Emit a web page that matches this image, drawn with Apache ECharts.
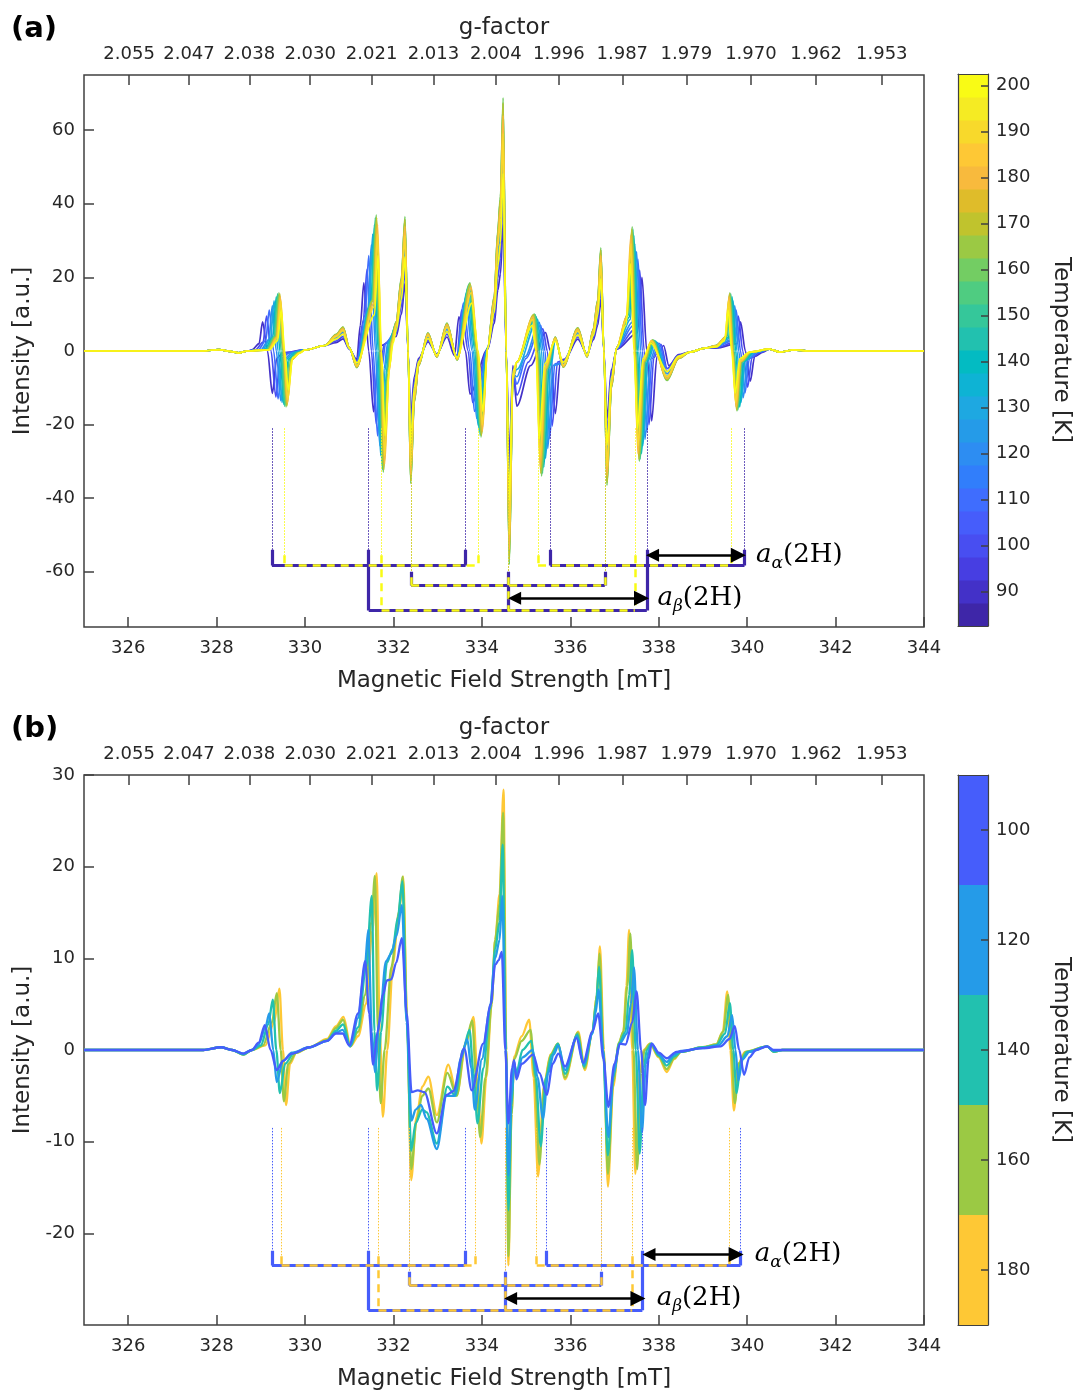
<!DOCTYPE html>
<html><head><meta charset="utf-8">
<script src="https://cdn.jsdelivr.net/npm/echarts@6/dist/echarts.min.js"></script>
<style>html,body{margin:0;padding:0;background:#fff}#c{width:1079px;height:1393px}</style>
</head><body><div id="c"></div>
<script>
// ================= DATA =================
const fieldTicks = [326,328,330,332,334,336,338,340,342,344];
const gTicks = [2.0553,2.0468,2.0383,2.0298,2.0213,2.0128,2.0043,1.9958,1.9873,1.9788,1.9703,1.9618,1.9533];
const yTicksA = [-60,-40,-20,0,20,40,60];
const yTicksB = [-20,-10,0,10,20,30];
const cbarTicksA = [90,100,110,120,130,140,150,160,170,180,190,200];
const cbarTicksB = [100,120,140,160,180];
const cbarBandsA = [85,90,95,100,105,110,115,120,125,130,135,140,145,150,155,160,165,170,175,180,185,190,195,200];
const cbarBandsB = [100,120,140,160,180];
const tempsA = [90,100,110,120,130,140,150,160,170,180,190,200];
const tempsB = [180,160,140,120,100];

// panel (a) spectra, [field mT, intensity]
const a090 = [[325,0],[327.7,0],[328.05,0.4],[328.3,-0.1],[328.5,-0.5],[328.7,0],[328.8,0.3],[328.96,2],[329.04,7.9],[329.15,0],[329.26,-11.5],[329.36,-2],[329.5,-0.5],[330,0.3],[330.45,1.5],[330.7,2.3],[330.86,3.3],[331,0.5],[331.17,-2.3],[331.25,7],[331.33,18.5],[331.44,0],[331.55,-16.5],[331.65,-3],[331.73,1.5],[332.06,4],[332.18,10],[332.26,18.3],[332.33,0],[332.39,-18],[332.47,-7],[332.57,-2],[332.78,2.5],[332.98,-0.8],[333.21,3.8],[333.38,-1.2],[333.48,9.3],[333.63,0],[333.73,-11.7],[334.13,0.5],[334.28,7.5],[334.36,16.5],[334.42,21],[334.48,34.4],[334.55,0],[334.62,-29],[334.7,-4],[334.79,-15],[335.1,-4],[335.44,5],[335.55,0],[335.66,-17],[335.78,-2.5],[335.88,-2.2],[336.17,3.2],[336.38,-0.8],[336.52,3],[336.62,7],[336.69,14],[336.76,0],[336.83,-18.3],[336.93,-5],[337.05,0.5],[337.52,5],[337.62,20],[337.73,0],[337.84,-19],[337.96,-1.5],[338.11,1.5],[338.23,-4],[338.45,-1],[338.7,-0.3],[339.05,0.8],[339.3,0.8],[339.77,2],[339.85,7.9],[339.96,0],[340.07,-8.2],[340.17,-1.5],[340.36,-0.3],[340.5,0.5],[340.75,-0.3],[341.05,0.3],[341.4,0],[344,0]];
const a100 = [[325,0],[327.7,0],[328.05,0.4],[328.3,-0.1],[328.5,-0.5],[328.7,0],[328.88,0.3],[329.05,2.4],[329.13,9.5],[329.23,0],[329.34,-12.5],[329.44,-1.5],[329.58,-0.5],[330,0.3],[330.45,1.5],[330.7,2.7],[330.86,3.9],[331,0.6],[331.17,-2.7],[331.32,8.4],[331.4,22.2],[331.5,0],[331.61,-19.8],[331.71,-3.6],[331.79,1.8],[332.06,4.8],[332.18,12],[332.26,21.9],[332.33,0],[332.39,-21.6],[332.47,-8.4],[332.57,-2.4],[332.78,2.9],[332.98,-1],[333.21,4.6],[333.44,-1.4],[333.54,11.1],[333.69,0],[333.79,-14],[334.13,0.6],[334.28,9],[334.36,19.8],[334.42,25.2],[334.48,41.3],[334.55,0],[334.62,-34.8],[334.7,-4.8],[334.79,-12],[335.05,-3],[335.38,6],[335.48,0],[335.59,-20.4],[335.71,-3],[335.84,-2.6],[336.17,3.8],[336.38,-1],[336.52,3.6],[336.62,8.4],[336.69,16.8],[336.76,0],[336.83,-21.9],[336.93,-6],[337.05,0.6],[337.47,6],[337.57,22],[337.67,0],[337.78,-20],[337.89,-1.8],[338.05,1.8],[338.19,-4.8],[338.45,-1.2],[338.7,-0.3],[339.05,0.8],[339.3,0.9],[339.72,2.4],[339.8,9.5],[339.9,0],[340.01,-9.8],[340.11,-1.8],[340.3,-0.3],[340.5,0.5],[340.75,-0.3],[341.05,0.3],[341.4,0],[344,0]];
const a110 = [[325,0],[327.7,0],[328.05,0.4],[328.3,-0.1],[328.5,-0.5],[328.7,0],[328.94,0.3],[329.11,2.8],[329.19,11.1],[329.29,0],[329.39,-13],[329.49,-1.8],[329.64,-0.5],[330,0.3],[330.45,1.5],[330.7,3.2],[330.86,4.6],[331,0.7],[331.17,-3.2],[331.36,9.8],[331.44,25.9],[331.54,0],[331.64,-23.1],[331.74,-4.2],[331.82,2.1],[332.06,5.6],[332.18,14],[332.26,25.6],[332.33,0],[332.39,-25.2],[332.47,-9.8],[332.57,-2.8],[332.78,3.4],[332.98,-1.1],[333.21,5.3],[333.44,-1.7],[333.58,13],[333.73,0],[333.83,-16.4],[334.13,0.7],[334.28,10.5],[334.36,23.1],[334.42,29.4],[334.48,48.2],[334.55,0],[334.62,-40.6],[334.7,-5.6],[334.79,-9],[335,-2],[335.33,7],[335.43,0],[335.53,-23.8],[335.65,-3.5],[335.85,-3.1],[336.17,4.4],[336.38,-1.1],[336.52,4.2],[336.62,9.8],[336.69,19.6],[336.76,0],[336.83,-25.6],[336.93,-7],[337.05,0.7],[337.43,7],[337.53,25],[337.63,0],[337.73,-22],[337.85,-2.1],[338.01,2.1],[338.19,-5.6],[338.45,-1.4],[338.7,-0.3],[339.05,0.8],[339.3,1.1],[339.67,2.8],[339.75,11.1],[339.85,0],[339.95,-11.4],[340.05,-2.1],[340.25,-0.3],[340.5,0.5],[340.75,-0.3],[341.05,0.3],[341.4,0],[344,0]];
const a120 = [[325,0],[327.7,0],[328.05,0.4],[328.3,-0.1],[328.5,-0.5],[328.7,0],[329,0.3],[329.18,3.1],[329.26,12.3],[329.35,0],[329.45,-13.5],[329.55,-2],[329.7,-0.5],[330,0.3],[330.45,1.5],[330.7,3.5],[330.86,5.1],[331,0.8],[331.17,-3.5],[331.42,10.9],[331.5,28.9],[331.59,0],[331.69,-25.7],[331.79,-4.7],[331.87,2.3],[332.06,6.2],[332.18,15.6],[332.26,28.5],[332.33,0],[332.39,-28.1],[332.47,-10.9],[332.57,-3.1],[332.78,3.8],[332.98,-1.2],[333.21,5.9],[333.44,-1.9],[333.63,14.4],[333.78,0],[333.88,-18.3],[334.13,0.8],[334.28,11.7],[334.36,25.7],[334.42,32.8],[334.48,53.7],[334.55,0],[334.62,-45.2],[334.7,-6.2],[334.79,-7],[334.98,-1.5],[335.3,7.8],[335.39,0],[335.49,-26.5],[335.61,-3.9],[335.84,-3.4],[336.17,4.9],[336.38,-1.2],[336.52,4.7],[336.62,10.9],[336.69,21.8],[336.76,0],[336.83,-28.5],[336.93,-7.8],[337.05,0.8],[337.4,7.8],[337.5,27],[337.59,0],[337.69,-24],[337.81,-2.3],[337.97,2.3],[338.19,-6.2],[338.45,-1.6],[338.7,-0.3],[339.05,0.8],[339.3,1.2],[339.64,3.1],[339.72,12.3],[339.81,0],[339.91,-12.7],[340.01,-2.3],[340.21,-0.3],[340.5,0.5],[340.75,-0.3],[341.05,0.3],[341.4,0],[344,0]];
const a130 = [[325,0],[327.7,0],[328.05,0.4],[328.3,-0.1],[328.5,-0.5],[328.7,0],[329.04,0.3],[329.22,3.4],[329.3,13.6],[329.39,0],[329.48,-14],[329.58,-2.2],[329.74,-0.5],[330,0.3],[330.45,1.5],[330.7,3.9],[330.86,5.6],[331,0.9],[331.17,-3.9],[331.45,12],[331.53,31.8],[331.62,0],[331.71,-28.4],[331.81,-5.2],[331.89,2.6],[332.06,6.9],[332.18,17.2],[332.26,31.4],[332.33,0],[332.39,-31],[332.47,-12],[332.57,-3.4],[332.78,4.2],[332.98,-1.4],[333.21,6.5],[333.44,-2.1],[333.66,15.9],[333.81,0],[333.91,-20.1],[334.13,0.9],[334.28,12.9],[334.36,28.4],[334.42,36.1],[334.48,59.2],[334.55,0],[334.62,-49.9],[334.7,-6.9],[334.79,-5],[335.26,8.6],[335.35,0],[335.44,-29.2],[335.56,-4.3],[335.66,3.3],[335.84,-3.8],[336.17,5.4],[336.38,-1.4],[336.52,5.2],[336.62,12],[336.69,24.1],[336.76,0],[336.83,-31.4],[336.93,-8.6],[337.05,0.9],[337.36,8.6],[337.46,29.1],[337.55,0],[337.64,-25.8],[337.76,-2.6],[337.93,2.6],[338.19,-6.9],[338.45,-1.7],[338.7,-0.3],[339.05,0.8],[339.3,1.3],[339.6,3.4],[339.68,13.6],[339.77,0],[339.86,-14],[339.96,-2.6],[340.17,-0.3],[340.5,0.5],[340.75,-0.3],[341.05,0.3],[341.4,0],[344,0]];
const a140 = [[325,0],[327.7,0],[328.05,0.4],[328.3,-0.1],[328.5,-0.5],[328.7,0],[329.08,0.3],[329.27,3.7],[329.35,14.7],[329.43,0],[329.52,-14.5],[329.62,-2.3],[329.78,-0.5],[330,0.3],[330.45,1.5],[330.7,4.2],[330.86,6],[331,0.9],[331.17,-4.2],[331.49,13],[331.57,34.4],[331.65,0],[331.74,-30.7],[331.84,-5.6],[331.92,2.8],[332.06,7.4],[332.18,18.6],[332.26,33.9],[332.33,0],[332.39,-33.5],[332.47,-13],[332.57,-3.7],[332.78,4.6],[332.98,-1.5],[333.21,7.1],[333.44,-2.2],[333.69,17.2],[333.84,0],[333.94,-21.8],[334.13,0.9],[334.28,14],[334.36,30.7],[334.42,39.1],[334.48,64],[334.55,0],[334.62,-53.9],[334.7,-7.4],[334.79,-3],[335.23,9.3],[335.31,0],[335.4,-31.6],[335.52,-4.7],[335.66,3.5],[335.84,-4.1],[336.17,5.9],[336.38,-1.5],[336.52,5.6],[336.62,13],[336.69,26],[336.76,0],[336.83,-33.9],[336.93,-9.3],[337.05,0.9],[337.34,9.3],[337.44,31.4],[337.52,0],[337.61,-27.9],[337.73,-2.8],[337.9,2.8],[338.19,-7.4],[338.45,-1.9],[338.7,-0.3],[339.05,0.8],[339.3,1.4],[339.58,3.7],[339.66,14.7],[339.74,0],[339.83,-15.2],[339.93,-2.8],[340.14,-0.3],[340.5,0.5],[340.75,-0.3],[341.05,0.3],[341.4,0],[344,0]];
const a150 = [[325,0],[327.7,0],[328.05,0.4],[328.3,-0.1],[328.5,-0.5],[328.7,0],[329.11,0.3],[329.3,3.9],[329.38,15.5],[329.46,0],[329.54,-15],[329.64,-2.5],[329.81,-0.5],[330,0.3],[330.45,1.5],[330.7,4.4],[330.86,6.4],[331,1],[331.17,-4.4],[331.51,13.7],[331.59,36.3],[331.67,0],[331.75,-32.3],[331.85,-5.9],[331.93,2.9],[332.06,7.8],[332.18,19.6],[332.26,35.8],[332.33,0],[332.39,-35.3],[332.47,-13.7],[332.57,-3.9],[332.78,4.8],[332.98,-1.6],[333.21,7.4],[333.44,-2.4],[333.71,18.1],[333.86,0],[333.96,-22.9],[334.13,1],[334.28,14.7],[334.36,32.3],[334.42,41.2],[334.48,67.4],[334.55,0],[334.62,-56.8],[334.7,-7.8],[334.79,-3],[335.21,9.8],[335.29,0],[335.37,-33.3],[335.49,-4.9],[335.66,3.7],[335.84,-4.3],[336.17,6.2],[336.38,-1.6],[336.52,5.9],[336.62,13.7],[336.69,27.4],[336.76,0],[336.83,-35.8],[336.93,-9.8],[337.05,1],[337.32,9.8],[337.42,33.1],[337.5,0],[337.58,-29.4],[337.7,-2.9],[337.88,2.9],[338.19,-7.8],[338.45,-2],[338.7,-0.3],[339.05,0.8],[339.3,1.5],[339.55,3.9],[339.63,15.5],[339.71,0],[339.79,-16],[339.89,-2.9],[340.11,-0.3],[340.5,0.5],[340.75,-0.3],[341.05,0.3],[341.4,0],[344,0]];
const a160 = [[325,0],[327.7,0],[328.05,0.4],[328.3,-0.1],[328.5,-0.5],[328.7,0],[329.14,0.3],[329.33,4],[329.41,15.8],[329.49,0],[329.57,-15.2],[329.67,-2.5],[329.84,-0.5],[330,0.3],[330.45,1.5],[330.7,4.5],[330.86,6.5],[331,1],[331.17,-4.5],[331.53,14],[331.61,37],[331.69,0],[331.77,-33],[331.87,-6],[331.95,3],[332.06,8],[332.18,20],[332.26,36.5],[332.33,0],[332.39,-36],[332.47,-14],[332.57,-4],[332.78,4.9],[332.98,-1.6],[333.21,7.6],[333.44,-2.4],[333.73,18.5],[333.88,0],[333.98,-23.4],[334.13,1],[334.28,15],[334.36,33],[334.42,42],[334.48,68.8],[334.55,0],[334.62,-58],[334.7,-8],[334.79,-3],[335.19,10],[335.27,0],[335.35,-34],[335.47,-5],[335.66,3.8],[335.84,-4.4],[336.17,6.3],[336.38,-1.6],[336.52,6],[336.62,14],[336.69,28],[336.76,0],[336.83,-36.5],[336.93,-10],[337.05,1],[337.3,10],[337.4,33.8],[337.48,0],[337.56,-30],[337.68,-3],[337.86,3],[338.19,-8],[338.45,-2],[338.7,-0.3],[339.05,0.8],[339.3,1.5],[339.53,4],[339.61,15.8],[339.69,0],[339.77,-16.3],[339.87,-3],[340.09,-0.3],[340.5,0.5],[340.75,-0.3],[341.05,0.3],[341.4,0],[344,0]];
const a170 = [[325,0],[327.7,0],[328.05,0.4],[328.3,-0.1],[328.5,-0.5],[328.7,0],[329.16,0.3],[329.35,3.9],[329.43,15.5],[329.51,0],[329.59,-14.9],[329.69,-2.5],[329.86,-0.5],[330,0.3],[330.45,1.5],[330.7,4.4],[330.86,6.4],[331,1],[331.17,-4.4],[331.54,13.7],[331.62,36.3],[331.7,0],[331.78,-32.3],[331.88,-5.9],[331.96,2.9],[332.06,7.8],[332.18,19.6],[332.26,35.8],[332.33,0],[332.39,-35.3],[332.47,-13.7],[332.57,-3.9],[332.78,4.8],[332.98,-1.6],[333.21,7.4],[333.44,-2.4],[333.74,18.1],[333.89,0],[333.99,-22.9],[334.13,1],[334.28,14.7],[334.36,32.3],[334.42,41.2],[334.48,67.4],[334.55,0],[334.62,-56.8],[334.7,-7.8],[334.79,-3],[335.17,9.8],[335.25,0],[335.33,-33.3],[335.45,-4.9],[335.66,3.7],[335.84,-4.3],[336.17,6.2],[336.38,-1.6],[336.52,5.9],[336.62,13.7],[336.69,27.4],[336.76,0],[336.83,-35.8],[336.93,-9.8],[337.05,1],[337.29,9.8],[337.39,33.1],[337.47,0],[337.55,-29.4],[337.67,-2.9],[337.85,2.9],[338.19,-7.8],[338.45,-2],[338.7,-0.3],[339.05,0.8],[339.3,1.5],[339.52,3.9],[339.6,15.5],[339.68,0],[339.76,-16],[339.86,-2.9],[340.08,-0.3],[340.5,0.5],[340.75,-0.3],[341.05,0.3],[341.4,0],[344,0]];
const a180 = [[325,0],[327.7,0],[328.05,0.4],[328.3,-0.1],[328.5,-0.5],[328.7,0],[329.17,0.3],[329.36,3.7],[329.44,14.7],[329.52,0],[329.6,-14.1],[329.7,-2.3],[329.87,-0.5],[330,0.3],[330.45,1.5],[330.7,4.2],[330.86,6],[331,0.9],[331.17,-4.2],[331.56,13],[331.64,34.4],[331.72,0],[331.8,-30.7],[331.9,-5.6],[331.98,2.8],[332.06,7.4],[332.18,18.6],[332.26,33.9],[332.33,0],[332.39,-33.5],[332.47,-13],[332.57,-3.7],[332.78,4.6],[332.98,-1.5],[333.21,7.1],[333.44,-2.2],[333.76,17.2],[333.91,0],[334.01,-21.8],[334.13,0.9],[334.28,14],[334.36,30.7],[334.42,39.1],[334.48,64],[334.55,0],[334.62,-53.9],[334.7,-7.4],[334.79,-3],[335.16,9.3],[335.24,0],[335.32,-31.6],[335.44,-4.7],[335.66,3.5],[335.84,-4.1],[336.17,5.9],[336.38,-1.5],[336.52,5.6],[336.62,13],[336.69,26],[336.76,0],[336.83,-33.9],[336.93,-9.3],[337.05,0.9],[337.27,9.3],[337.37,31.4],[337.45,0],[337.53,-27.9],[337.65,-2.8],[337.83,2.8],[338.19,-7.4],[338.45,-1.9],[338.7,-0.3],[339.05,0.8],[339.3,1.4],[339.51,3.7],[339.59,14.7],[339.67,0],[339.75,-15.2],[339.85,-2.8],[340.07,-0.3],[340.5,0.5],[340.75,-0.3],[341.05,0.3],[341.4,0],[344,0]];
const a190 = [[325,0],[327.7,0],[328.05,0.4],[328.3,-0.1],[328.5,-0.5],[328.7,0],[329.18,0.3],[329.37,3.4],[329.45,13.6],[329.53,0],[329.61,-13.1],[329.71,-2.2],[329.88,-0.5],[330,0.3],[330.45,1.5],[330.7,3.9],[330.86,5.6],[331,0.9],[331.17,-3.9],[331.56,12],[331.64,31.8],[331.72,0],[331.8,-28.4],[331.9,-5.2],[331.98,2.6],[332.06,6.9],[332.18,17.2],[332.26,31.4],[332.33,0],[332.39,-31],[332.47,-12],[332.57,-3.4],[332.78,4.2],[332.98,-1.4],[333.21,6.5],[333.44,-2.1],[333.76,15.9],[333.91,0],[334.01,-20.1],[334.13,0.9],[334.28,12.9],[334.36,28.4],[334.42,36.1],[334.48,59.2],[334.55,0],[334.62,-49.9],[334.7,-6.9],[334.79,-3],[335.15,8.6],[335.23,0],[335.31,-29.2],[335.43,-4.3],[335.66,3.3],[335.84,-3.8],[336.17,5.4],[336.38,-1.4],[336.52,5.2],[336.62,12],[336.69,24.1],[336.76,0],[336.83,-31.4],[336.93,-8.6],[337.05,0.9],[337.27,8.6],[337.37,29.1],[337.45,0],[337.53,-25.8],[337.65,-2.6],[337.83,2.6],[338.19,-6.9],[338.45,-1.7],[338.7,-0.3],[339.05,0.8],[339.3,1.3],[339.5,3.4],[339.58,13.6],[339.66,0],[339.74,-14],[339.84,-2.6],[340.06,-0.3],[340.5,0.5],[340.75,-0.3],[341.05,0.3],[341.4,0],[344,0]];
const a200 = [[325,0],[327.7,0],[328.05,0.4],[328.3,-0.1],[328.5,-0.5],[328.7,0],[329.19,0.3],[329.38,2.8],[329.46,11.1],[329.54,0],[329.62,-10.6],[329.72,-1.8],[329.89,-0.5],[330,0.3],[330.45,1.5],[330.7,3.2],[330.86,4.6],[331,0.7],[331.17,-3.2],[331.57,9.8],[331.65,25.9],[331.73,0],[331.81,-23.1],[331.91,-4.2],[331.99,2.1],[332.06,5.6],[332.18,14],[332.26,25.6],[332.33,0],[332.39,-25.2],[332.47,-9.8],[332.57,-2.8],[332.78,3.4],[332.98,-1.1],[333.21,5.3],[333.44,-1.7],[333.77,13],[333.92,0],[334.02,-16.4],[334.13,0.7],[334.28,10.5],[334.36,23.1],[334.42,29.4],[334.48,48.2],[334.55,0],[334.62,-40.6],[334.7,-5.6],[334.79,-3],[335.14,7],[335.22,0],[335.3,-23.8],[335.42,-3.5],[335.66,2.7],[335.84,-3.1],[336.17,4.4],[336.38,-1.1],[336.52,4.2],[336.62,9.8],[336.69,19.6],[336.76,0],[336.83,-25.6],[336.93,-7],[337.05,0.7],[337.26,7],[337.36,23.7],[337.44,0],[337.52,-21],[337.64,-2.1],[337.82,2.1],[338.19,-5.6],[338.45,-1.4],[338.7,-0.3],[339.05,0.8],[339.3,1.1],[339.49,2.8],[339.57,11.1],[339.65,0],[339.73,-11.4],[339.83,-2.1],[340.05,-0.3],[340.5,0.5],[340.75,-0.3],[341.05,0.3],[341.4,0],[344,0]];

// panel (b) spectra
const b180 = [[325,0],[327.7,0],[328.1,0.3],[328.35,0],[328.6,-0.5],[328.8,0],[329.1,0.5],[329.3,3],[329.42,6.7],[329.5,0],[329.57,-6.0],[329.66,-1.5],[329.8,-0.3],[330.1,0.3],[330.5,1.2],[330.7,2.6],[330.87,3.6],[331.03,0.4],[331.2,1.5],[331.38,5],[331.52,13],[331.62,19.3],[331.69,2],[331.76,-7.3],[331.86,0],[331.99,9.5],[332.12,15],[332.22,18.9],[332.31,3],[332.4,-14.2],[332.52,-7.3],[332.65,-4],[332.79,-2.9],[332.98,-7.1],[333.24,-1.6],[333.43,-4.9],[333.65,1],[333.81,3.6],[333.9,-3],[333.99,-10.2],[334.1,-3],[334.22,5],[334.3,12],[334.4,17],[334.49,28.4],[334.55,0],[334.6,-23.5],[334.67,-7],[334.73,-0.7],[334.9,1.5],[335.07,3.3],[335.17,-3],[335.27,-13.8],[335.4,-4],[335.55,-0.5],[335.72,0.7],[335.88,-3.2],[336.18,2.0],[336.33,-2.2],[336.5,2],[336.6,6],[336.67,11.3],[336.76,0],[336.85,-14.9],[336.97,-4],[337.1,0.7],[337.2,2],[337.27,7],[337.33,13.1],[337.4,0],[337.47,-13.5],[337.57,-2.5],[337.66,0],[337.8,0.7],[338.0,-0.8],[338.18,-2.4],[338.35,-1],[338.5,-0.2],[339.0,0.3],[339.3,0.6],[339.45,2],[339.55,6.4],[339.62,0],[339.70,-6.6],[339.8,-1.5],[339.95,-0.2],[340.45,0.4],[340.6,-0.2],[340.8,0],[344,0]];
const b160 = [[325,0],[327.7,0],[328.1,0.3],[328.35,0],[328.6,-0.5],[328.8,0],[329.05,0.5],[329.25,3],[329.36,6.2],[329.45,0],[329.52,-5.6],[329.62,-1.5],[329.8,-0.3],[330.1,0.3],[330.5,1.1],[330.7,2.4],[330.86,3.3],[331.02,0.4],[331.2,2],[331.36,6],[331.5,14],[331.58,19.0],[331.65,2],[331.71,-5.8],[331.8,0],[331.95,9],[332.1,14],[332.21,18.9],[332.31,3],[332.4,-13],[332.52,-7.8],[332.65,-5],[332.79,-4.2],[332.98,-7.9],[333.22,-2.5],[333.43,-5],[333.62,0.5],[333.78,3.2],[333.87,-3],[333.96,-9.5],[334.08,-3],[334.22,5],[334.3,12],[334.4,16],[334.48,25.9],[334.55,0],[334.6,-22.5],[334.67,-7],[334.73,-1],[334.9,1],[335.1,2.2],[335.2,-3],[335.3,-12.5],[335.42,-3.5],[335.56,-0.5],[335.72,0.7],[335.88,-3],[336.17,1.9],[336.32,-2],[336.5,2],[336.6,6],[336.66,10.5],[336.75,0],[336.85,-13.5],[336.97,-3.5],[337.1,0.8],[337.2,2],[337.29,7],[337.36,12.7],[337.43,0],[337.51,-13],[337.6,-2.5],[337.68,0],[337.81,0.7],[338.0,-0.7],[338.18,-2.1],[338.35,-0.9],[338.5,-0.2],[339.0,0.3],[339.3,0.6],[339.46,2],[339.57,6.0],[339.645,0],[339.72,-5.8],[339.82,-1.4],[339.97,-0.2],[340.45,0.4],[340.6,-0.2],[340.8,0],[344,0]];
const b140 = [[325,0],[327.7,0],[328.1,0.3],[328.35,0],[328.6,-0.5],[328.8,0],[329.0,0.5],[329.17,2.8],[329.27,5.5],[329.35,0],[329.43,-4.7],[329.55,-1.5],[329.75,-0.3],[330.1,0.3],[330.5,1.0],[330.7,2.1],[330.86,2.8],[331.02,0.4],[331.2,2.5],[331.38,9],[331.51,16.8],[331.57,2],[331.63,-4.4],[331.72,2],[331.85,9.5],[331.98,11],[332.1,14.5],[332.2,18.4],[332.3,3],[332.4,-11],[332.5,-8],[332.65,-6.5],[332.75,-6.8],[332.98,-10.2],[333.22,-4],[333.4,-5],[333.57,0],[333.72,2.2],[333.81,-2.5],[333.9,-8],[334.03,-2],[334.2,5],[334.3,11],[334.4,14],[334.47,22.4],[334.54,0],[334.6,-17.5],[334.67,-6],[334.73,-1.5],[334.78,-2.5],[334.92,0],[335.12,1],[335.22,-3],[335.33,-10.5],[335.45,-3],[335.58,-0.5],[335.72,0.7],[335.88,-2.6],[336.16,1.7],[336.31,-1.8],[336.5,1.8],[336.58,5],[336.65,9.1],[336.74,0],[336.85,-11.5],[336.97,-3],[337.1,0.7],[337.25,2],[337.33,6],[337.40,10.9],[337.48,0],[337.57,-11.3],[337.66,-2],[337.73,0],[337.83,0.7],[338.0,-0.6],[338.18,-1.7],[338.35,-0.7],[338.5,-0.2],[339.0,0.3],[339.3,0.5],[339.5,1.8],[339.61,5.1],[339.685,0],[339.76,-4.7],[339.86,-1.2],[340.0,-0.2],[340.45,0.4],[340.6,-0.2],[340.8,0],[344,0]];
const b120 = [[325,0],[327.7,0],[328.1,0.3],[328.35,0],[328.6,-0.4],[328.8,0],[328.95,0.6],[329.1,2.4],[329.19,4.0],[329.28,0],[329.36,-3.5],[329.5,-1.2],[329.7,-0.3],[330.1,0.3],[330.5,1.0],[330.7,1.9],[330.85,2.2],[331.02,0.4],[331.2,3.5],[331.35,9],[331.43,13.1],[331.51,2],[331.58,-2.4],[331.68,3],[331.83,9.7],[331.95,10.5],[332.07,12.5],[332.19,15.8],[332.3,3],[332.41,-7.7],[332.5,-6.5],[332.62,-6],[332.75,-7.5],[332.98,-10.8],[333.2,-5],[333.38,-5],[333.52,-1],[333.67,1.2],[333.76,-2],[333.84,-6.5],[334.0,-1],[334.18,4.5],[334.3,10],[334.4,12],[334.46,16.8],[334.54,0],[334.6,-13.7],[334.67,-5],[334.73,-1.3],[334.78,-2.8],[334.92,-0.8],[335.15,0],[335.26,-3],[335.38,-7.5],[335.5,-2.5],[335.62,-0.5],[335.73,0.5],[335.88,-2.2],[336.15,1.5],[336.3,-1.6],[336.5,1.8],[336.57,4],[336.64,6.6],[336.74,0],[336.86,-9.5],[336.98,-2.5],[337.12,0.7],[337.28,1.8],[337.37,5],[337.44,9],[337.53,0],[337.62,-9],[337.71,-1.5],[337.78,0],[337.84,0.7],[338.0,-0.5],[338.18,-1.3],[338.35,-0.5],[338.5,-0.1],[339.0,0.2],[339.35,0.5],[339.55,1.5],[339.66,3.8],[339.735,0],[339.8,-3.3],[339.9,-1],[340.05,-0.2],[340.45,0.4],[340.6,-0.1],[340.8,0],[344,0]];
const b100 = [[325,0],[327.7,0],[328.1,0.3],[328.35,0],[328.6,-0.4],[328.8,0],[328.95,0.8],[329.09,2.7],[329.22,0],[329.36,-2.2],[329.5,-1.2],[329.7,-0.4],[330.1,0.3],[330.5,1],[330.7,1.8],[330.85,1.8],[331.0,0.5],[331.2,4],[331.36,9.7],[331.45,4],[331.54,-1.6],[331.64,2],[331.76,6],[331.85,7.6],[331.95,7.7],[332.06,9.5],[332.19,12.2],[332.3,4],[332.41,-4.6],[332.55,-4.4],[332.7,-4.6],[332.98,-9.1],[333.2,-4.9],[333.35,-4.5],[333.6,0.2],[333.77,-4.4],[334.03,0.7],[334.2,5],[334.3,9.3],[334.38,9.8],[334.45,10.7],[334.53,0],[334.6,-8.0],[334.68,-2],[334.73,-1.1],[334.78,-3.2],[334.9,-1.5],[335.16,-0.5],[335.3,-2.5],[335.47,-4.9],[335.6,-1.5],[335.73,-0.4],[335.88,-1.8],[336.14,1.3],[336.29,-1.4],[336.5,2],[336.63,4.0],[336.75,-1],[336.86,-6.2],[337.0,-1.5],[337.12,0.7],[337.25,0.6],[337.4,3],[337.5,6.4],[337.6,0],[337.69,-6.0],[337.77,-1],[337.84,0.7],[338.0,-0.3],[338.18,-0.9],[338.4,-0.2],[339.0,0.2],[339.4,0.4],[339.6,1.2],[339.72,2.6],[339.82,0],[339.93,-2.7],[340.05,-0.8],[340.2,0],[340.45,0.4],[340.6,0],[344,0]];

// stick diagram line positions (mT)
const sticksA_lowOuter  = [329.25,331.44,333.63,335.55,337.73,339.94];
const sticksA_highOuter = [329.54,331.73,333.92,335.27,337.46,339.65];
const sticksA_mid       = [332.40,334.59,336.78];
const sticksB_lowOuter  = [329.25,331.43,333.62,335.46,337.63,339.85];
const sticksB_highOuter = [329.47,331.66,333.85,335.24,337.40,339.60];
const sticksB_mid       = [332.36,334.52,336.70];
// hyperfine arrows (from, to) in mT
const arrowA_alpha = [337.86,339.80], arrowA_beta = [334.74,337.61];
const arrowB_alpha = [337.78,339.75], arrowB_beta = [334.65,337.53];
const labelA_x = [340.18, 337.95], labelB_x = [340.15, 337.93];

// ================= STYLE / LAYOUT =================
const HNU = 670.07; // h*nu/muB in mT, for g = HNU / B
const FONT = 'DejaVu Sans';
const TXT = '#262626', AXC = '#404040';
const colorsA = ['#4331C8','#484EF1','#3F6DFE','#2D8DF2','#1EA8E1','#03BBC2','#35C79A','#73CD63','#C0C32D','#F8BA3D','#F8D92B','#F9FB15'];
const bandColorsA = ['#3E26A8','#4331C8','#473EE2','#484EF1','#465DFB','#3F6DFE','#317EFB','#2D8DF2','#259BE8','#1EA8E1','#0EB3D4','#03BBC2','#22C1AF','#35C79A','#4FCC81','#73CD63','#9BC944','#C0C32D','#DFBC2A','#F8BA3D','#FEC835','#F8D92B','#F5EB23','#F9FB15'];
const colorsB = ['#FEC835','#9BC944','#22C1AF','#259BE8','#465DFB'];
const bandColorsB = ['#465DFB','#259BE8','#22C1AF','#9BC944','#FEC835'];
const lvA_low  = {dotTop:-21, tickTop:-54,   midTop:-60,   row1:-58.3, row2:-63.7, row3:-70.5};
const lvA_high = {dotTop:-21, tickTop:-55.5, midTop:-61.5, row1:-58.3, row2:-63.7, row3:-70.5};
const lvB_low  = {dotTop:-8.5, tickTop:-21.9, midTop:-24.2, row1:-23.5, row2:-25.7, row3:-28.4};
const lvB_high = {dotTop:-8.5, tickTop:-22.5, midTop:-24.8, row1:-23.5, row2:-25.7, row3:-28.4};
const arrowYA = {alpha:-55.5, beta:-67.2}, arrowYB = {alpha:-22.3, beta:-27.1};

const tickLab = {fontSize:18, color:TXT, fontFamily:FONT};
const nameSty = {fontSize:23, color:TXT, fontFamily:FONT};
const gPos = gTicks.map(g => HNU / g);

function mainX(gi, pos) {
  const isTop = pos === 'top';
  return {
    gridIndex: gi, type:'value', min:325, max:344, position: pos,
    axisLine:{show:false, onZero:false}, splitLine:{show:false},
    axisTick:{show:true, inside:true, length:10, customValues: isTop ? gPos : fieldTicks, lineStyle:{color:AXC, width:1.5}},
    axisLabel: Object.assign({customValues: isTop ? gPos : fieldTicks, margin:12,
      formatter: isTop ? (v => (HNU / v).toFixed(3)) : (v => String(v))}, tickLab),
    name: isTop ? 'g-factor' : 'Magnetic Field Strength [mT]', nameLocation:'middle',
    nameGap: isTop ? 35 : 43, nameTextStyle: nameSty
  };
}
function mainY(gi, min, max, ticks) {
  return {
    gridIndex: gi, type:'value', min, max, position:'left',
    axisLine:{show:false, onZero:false}, splitLine:{show:false},
    axisTick:{show:true, inside:true, length:10, customValues: ticks, lineStyle:{color:AXC, width:1.5}},
    axisLabel: Object.assign({customValues: ticks, margin:9}, tickLab),
    name:'Intensity [a.u.]', nameLocation:'middle', nameGap:48, nameRotate:90, nameTextStyle: nameSty
  };
}
function cbX(gi, pos) {
  return {gridIndex: gi, type:'value', min:0, max:1, position: pos, z:10,
    axisLine:{show:true, onZero:false, lineStyle:{color:AXC, width:1.2}}, axisTick:{show:false}, axisLabel:{show:false}, splitLine:{show:false}};
}
function cbYRight(gi, min, max, ticks, inverse) {
  return {gridIndex: gi, type:'value', min, max, inverse: !!inverse, position:'right', z:10,
    axisLine:{show:true, onZero:false, lineStyle:{color:AXC, width:1.2}}, splitLine:{show:false},
    axisTick:{show:true, inside:true, length:7, customValues: ticks, lineStyle:{color:AXC, width:1.5}},
    axisLabel: Object.assign({customValues: ticks, margin:8}, tickLab),
    name:'Temperature [K]', nameLocation:'middle', nameGap:61, nameRotate:-90, nameTextStyle: nameSty};
}
function cbYLeft(gi, min, max, inverse) {
  return {gridIndex: gi, type:'value', min, max, inverse: !!inverse, position:'left', z:10,
    axisLine:{show:true, onZero:false, lineStyle:{color:AXC, width:1.2}}, axisTick:{show:false}, axisLabel:{show:false}, splitLine:{show:false}};
}

const series = [];
// spectra
[a090,a100,a110,a120,a130,a140,a150,a160,a170,a180,a190,a200].forEach((d, i) => series.push({
  type:'line', name: tempsA[i] + ' K', xAxisIndex:0, yAxisIndex:0, data:d, symbol:'none', showSymbol:false,
  smooth:0.3, smoothMonotone:'x', lineStyle:{width:1.7, color:colorsA[i]}, silent:true, z:2, animation:false
}));
[b180,b160,b140,b120,b100].forEach((d, i) => series.push({
  type:'line', name: tempsB[i] + ' K', xAxisIndex:4, yAxisIndex:3, data:d, symbol:'none', showSymbol:false,
  smooth:0.3, smoothMonotone:'x', lineStyle:{width:2.3, color:colorsB[i]}, silent:true, z:2, animation:false
}));

// colour bars
function bandSeries(xi, yi, bands, half, colors) {
  return {type:'custom', xAxisIndex:xi, yAxisIndex:yi, silent:true, z:3,
    data: bands.map((t, i) => [0.5, t, i]), encode:{x:0, y:1},
    renderItem: (params, api) => {
      const t = api.value(1), i = api.value(2);
      const p1 = api.coord([0, t + half]), p2 = api.coord([1, t - half]);
      return {type:'rect', shape:{x:p1[0], y:Math.min(p1[1], p2[1]), width:p2[0]-p1[0], height:Math.abs(p2[1]-p1[1]) + 0.5},
        style:{fill: colors[i]}};
    }};
}
series.push(bandSeries(2, 1, cbarBandsA, 2.5, bandColorsA));
series.push(bandSeries(6, 4, cbarBandsB, 10, bandColorsB));

// stick diagrams
function stickSegs(O, M, lv) {
  const dots = [], main = [];
  O.forEach(x => dots.push([[x, lv.dotTop], [x, lv.tickTop]]));
  M.forEach(x => dots.push([[x, lv.dotTop], [x, lv.midTop]]));
  [0,2,3,5].forEach(i => main.push([[O[i], lv.tickTop], [O[i], lv.row1]]));
  [1,4].forEach(i => main.push([[O[i], lv.tickTop], [O[i], lv.row3]]));
  [0,2].forEach(i => main.push([[M[i], lv.midTop], [M[i], lv.row2]]));
  main.push([[M[1], lv.midTop], [M[1], lv.row3]]);
  main.push([[O[0], lv.row1], [O[2], lv.row1]]);
  main.push([[O[3], lv.row1], [O[5], lv.row1]]);
  main.push([[M[0], lv.row2], [M[2], lv.row2]]);
  main.push([[O[1], lv.row3], [O[4], lv.row3]]);
  return {dots, main};
}
function addSticks(xi, yi, O, M, lv, color, dashed) {
  const s = stickSegs(O, M, lv);
  series.push({type:'lines', coordinateSystem:'cartesian2d', xAxisIndex:xi, yAxisIndex:yi, silent:true, z: dashed ? 5 : 4,
    data: s.dots.map(c => ({coords:c})), lineStyle:{color, width:1, type:[1.5,1.5], opacity:1}});
  series.push({type:'lines', coordinateSystem:'cartesian2d', xAxisIndex:xi, yAxisIndex:yi, silent:true, z: dashed ? 7 : 6,
    data: s.main.map(c => ({coords:c})), lineStyle:{color, width: dashed ? 2.5 : 3.2, type: dashed ? [8,6] : 'solid', opacity:1}});
}
addSticks(0, 0, sticksA_lowOuter, sticksA_mid, lvA_low, '#3E26A8', false);
addSticks(0, 0, sticksA_highOuter, sticksA_mid, lvA_high, '#F9FB15', true);
addSticks(4, 3, sticksB_lowOuter, sticksB_mid, lvB_low, '#465DFB', false);
addSticks(4, 3, sticksB_highOuter, sticksB_mid, lvB_high, '#FEC835', true);

function addArrows(xi, yi, al, be, ay, lx) {
  series.push({type:'lines', coordinateSystem:'cartesian2d', xAxisIndex:xi, yAxisIndex:yi, silent:true, z:8,
    symbol:['triangle','triangle'], symbolSize:[13,15],
    data:[{coords:[[al[0], ay.alpha],[al[1], ay.alpha]]}, {coords:[[be[0], ay.beta],[be[1], ay.beta]]}],
    lineStyle:{color:'#000', width:2.5, opacity:1}, itemStyle:{color:'#000'}});
  const rich = {
    a:{fontFamily:'DejaVu Serif', fontStyle:'italic', fontSize:26, lineHeight:34, verticalAlign:'middle', color:'#000'},
    s:{fontFamily:'DejaVu Serif', fontStyle:'italic', fontSize:17, lineHeight:17, verticalAlign:'bottom', color:'#000'},
    n:{fontFamily:'DejaVu Serif', fontSize:26, lineHeight:34, verticalAlign:'middle', color:'#000'}
  };
  series.push({type:'scatter', xAxisIndex:xi, yAxisIndex:yi, silent:true, z:9, symbolSize:2,
    itemStyle:{color:'rgba(0,0,0,0)'},
    label:{show:true, position:'right', distance:0, color:'#000', opacity:1, rich},
    data:[
      {value:[lx[0], ay.alpha], label:{formatter:'{a|a}{s|α}{n|(2H)}'}},
      {value:[lx[1], ay.beta], label:{formatter:'{a|a}{s|β}{n|(2H)}'}}
    ]});
}
addArrows(0, 0, arrowA_alpha, arrowA_beta, arrowYA, labelA_x);
addArrows(4, 3, arrowB_alpha, arrowB_beta, arrowYB, labelB_x);

const option = {
  animation:false, backgroundColor:'#fff',
  title:[
    {text:'(a)', left:6, top:10, textStyle:{fontSize:29, fontWeight:'bold', fontFamily:FONT, color:'#000'}},
    {text:'(b)', left:6, top:710, textStyle:{fontSize:29, fontWeight:'bold', fontFamily:FONT, color:'#000'}}
  ],
  grid:[
    {left:84, top:75, width:840, height:552, show:true, borderColor:AXC, borderWidth:1.5, backgroundColor:'rgba(0,0,0,0)'},
    {left:958, top:74, width:30, height:552},
    {left:84, top:775, width:840, height:550, show:true, borderColor:AXC, borderWidth:1.5, backgroundColor:'rgba(0,0,0,0)'},
    {left:958, top:775, width:30, height:550}
  ],
  xAxis:[ mainX(0,'bottom'), mainX(0,'top'), cbX(1,'bottom'), cbX(1,'top'),
          mainX(2,'bottom'), mainX(2,'top'), cbX(3,'bottom'), cbX(3,'top') ],
  yAxis:[ mainY(0,-75,75,yTicksA), cbYRight(1,82.5,202.5,cbarTicksA,false), cbYLeft(1,82.5,202.5,false),
          mainY(2,-30,30,yTicksB), cbYRight(3,90,190,cbarTicksB,true), cbYLeft(3,90,190,true) ],
  series
};
const chart = echarts.init(document.getElementById('c'), null, {renderer:'canvas'});
chart.setOption(option);
</script></body></html>
